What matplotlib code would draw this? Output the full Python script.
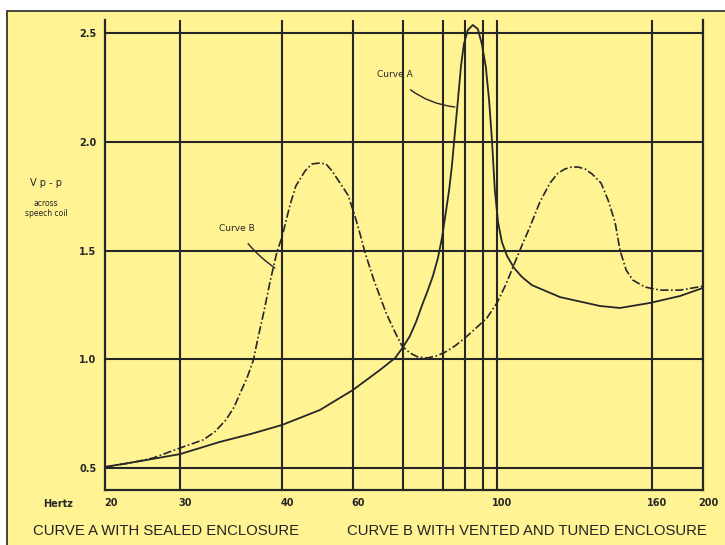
import numpy as np
import matplotlib
matplotlib.use('Agg')
import matplotlib.pyplot as plt
from matplotlib.patches import Rectangle
from matplotlib.transforms import ScaledTranslation

# frequency axis of the original is hand drawn: tick labels are not on a true log grid
tick_hz = [20, 30, 40, 60, 100, 160, 200]
tick_labels = ['20', '30', '40', '60', '100', '160', '200']
tick_pos = [0.0, 0.1254, 0.2960, 0.4147, 0.6555, 0.9147, 1.0]   # fraction of axis width
grid_hz = [30, 40, 60, 74, 85, 91, 96, 100, 160]
y_ticks = [0.5, 1.0, 1.5, 2.0, 2.5]

# Curve A - sealed enclosure
a_hz = [20, 24.7, 30, 33.9, 36.9, 40, 50.7, 60, 67.5, 71.7, 73.9, 75.8, 77.5, 79.2,
        80.8, 82.2, 83.6, 84.7, 85.8, 86.7, 87.5, 88.3, 89.2, 90.0, 90.8, 91.9, 93.3,
        94.7, 95.8, 96.9, 97.8, 98.6, 99.4, 100.4, 101.9, 103.9, 106.6, 109.7, 113.5,
        124.4, 139.9, 147.6, 159.2, 182, 200]
a_v = [0.505, 0.532, 0.564, 0.62, 0.656, 0.698, 0.767, 0.859, 0.951, 1.006, 1.056, 1.107,
       1.171, 1.249, 1.318, 1.383, 1.466, 1.557, 1.677, 1.778, 1.893, 2.04, 2.201, 2.348,
       2.449, 2.514, 2.537, 2.518, 2.449, 2.344, 2.192, 2.008, 1.778, 1.631, 1.539, 1.475,
       1.42, 1.378, 1.341, 1.286, 1.245, 1.236, 1.259, 1.291, 1.328]

# Curve B - vented and tuned enclosure
b_hz = [20, 23.3, 26.4, 30, 32.25, 33.4, 34.5, 35.3, 35.9, 36.6, 37.2, 37.6, 38.2, 38.8,
        39.5, 40, 42.25, 43.9, 46.5, 48.4, 50.4, 52.4, 54.1, 56.9, 58.6, 60.3, 61.9, 63.3,
        65.8, 69.2, 71.4, 73.6, 75.8, 78.1, 80.6, 83.1, 85.6, 88.3, 91.1, 94.2, 97.2, 100,
        103.5, 107, 109.7, 112.8, 116.6, 120.5, 123.6, 126.3, 129, 131.4, 134.1, 136.8,
        140.3, 143, 145.7, 147.6, 150, 152.6, 157.3, 166.3, 182, 200]
b_v = [0.505, 0.523, 0.546, 0.592, 0.629, 0.666, 0.721, 0.78, 0.845, 0.918, 0.997, 1.089,
       1.213, 1.351, 1.493, 1.562, 1.709, 1.797, 1.866, 1.898, 1.902, 1.898, 1.866, 1.797,
       1.755, 1.672, 1.58, 1.493, 1.364, 1.213, 1.134, 1.061, 1.029, 1.01, 1.006, 1.015,
       1.033, 1.061, 1.098, 1.144, 1.19, 1.259, 1.346, 1.447, 1.525, 1.61, 1.723, 1.81,
       1.856, 1.875, 1.884, 1.884, 1.875, 1.852, 1.81, 1.732, 1.631, 1.502, 1.41, 1.364,
       1.332, 1.318, 1.318, 1.336]

YELLOW = '#fff394'
INK = '#262626'


def fwd(f):
    return np.interp(f, tick_hz, tick_pos)


def inv(p):
    return np.interp(p, tick_pos, tick_hz)


fig = plt.figure(figsize=(7.25, 5.45), dpi=100, facecolor='white')
fig.patches.append(Rectangle((7 / 725, -0.2), 1.2, 1 - 11 / 545 + 0.2,
                             transform=fig.transFigure, facecolor=YELLOW,
                             edgecolor=INK, linewidth=1.2, zorder=-5))

ax = fig.add_axes([105 / 725, 1 - 490 / 545, 598 / 725, 470 / 545])
ax.set_facecolor('none')
ax.set_xscale('function', functions=(fwd, inv))
ax.set_xlim(20, 200)
ax.set_ylim(0.399, 2.56)

for f in grid_hz:
    ax.axvline(f, color=INK, lw=1.5, zorder=1)
for v in y_ticks:
    ax.axhline(v, color=INK, lw=1.5, zorder=1)

ax.plot(a_hz, a_v, color=INK, lw=1.3, zorder=3)
ax.plot(b_hz, b_v, color=INK, lw=1.2, linestyle=(0, (5, 1.5, 1, 1.5)), zorder=3)

ax.annotate('Curve A', xy=(88.3, 2.16), xytext=(71.5, 2.31), fontsize=6.5,
            ha='center', va='center', color=INK,
            arrowprops=dict(arrowstyle='-', color=INK, lw=1.0,
                            shrinkA=9, shrinkB=0, connectionstyle='arc3,rad=0.2'))
ax.annotate('Curve B', xy=(39.3, 1.42), xytext=(35.6, 1.60), fontsize=6.5,
            ha='center', va='center', color=INK,
            arrowprops=dict(arrowstyle='-', color=INK, lw=1.0,
                            shrinkA=7, shrinkB=0, connectionstyle='arc3,rad=0.1'))

for s in ['left', 'right', 'bottom']:
    ax.spines[s].set_color(INK)
    ax.spines[s].set_linewidth(1.6)
ax.spines['top'].set_visible(False)

ax.set_xticks(tick_hz)
ax.set_xticklabels(tick_labels, fontsize=7, fontweight='bold', color=INK)
ax.xaxis.set_minor_locator(matplotlib.ticker.NullLocator())
ax.set_yticks(y_ticks)
ax.set_yticklabels(['0.5', '1.0', '1.5', '2.0', '2.5'], fontsize=7, fontweight='bold', color=INK)
ax.tick_params(length=0, pad=6)
off = ScaledTranslation(4 / 72, 0, fig.dpi_scale_trans)
for lab in ax.get_xticklabels():
    lab.set_transform(lab.get_transform() + off)

fig.text(58 / 725, 1 - 504 / 545, 'Hertz', fontsize=7, fontweight='bold', color=INK,
         ha='center', va='center')
fig.text(46 / 725, 1 - 183 / 545, 'V p - p', fontsize=7, color=INK, ha='center', va='center')
fig.text(46 / 725, 1 - 203 / 545, 'across', fontsize=5.5, color=INK, ha='center', va='center')
fig.text(46 / 725, 1 - 214 / 545, 'speech coil', fontsize=5.5, color=INK, ha='center', va='center')

fig.text(33 / 725, 1 - 531 / 545, 'CURVE A WITH SEALED ENCLOSURE', fontsize=10.7,
         family='Liberation Sans', color='#222222', ha='left', va='center')
fig.text(347 / 725, 1 - 531 / 545, 'CURVE B WITH VENTED AND TUNED ENCLOSURE', fontsize=10.7,
         family='Liberation Sans', color='#222222', ha='left', va='center')

fig.savefig('out.png', dpi=100, facecolor='white')
